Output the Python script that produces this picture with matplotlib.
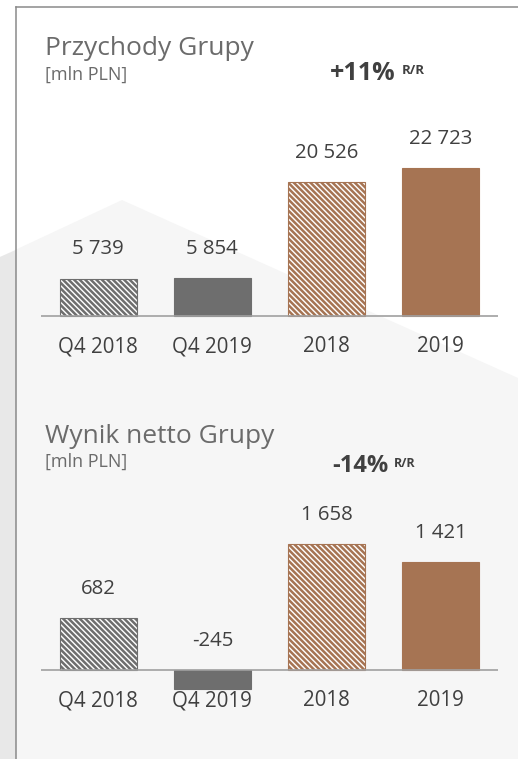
import matplotlib
matplotlib.use("Agg")
import matplotlib.pyplot as plt

# ---- data ----
categories = ["Q4 2018", "Q4 2019", "2018", "2019"]
revenue = [5739, 5854, 20526, 22723]
net_income = [682, -245, 1658, 1421]
revenue_labels = ["5 739", "5 854", "20 526", "22 723"]
net_labels = ["682", "-245", "1 658", "1 421"]
title_top = "Przychody Grupy"
title_bottom = "Wynik netto Grupy"
unit_label = "[mln PLN]"
change_top = "+11%"
change_bottom = "-14%"
change_suffix = "R/R"

# ---- style ----
W, H, DPI = 518, 759, 100
GRAY = "#6e6e6e"
BROWN = "#a67453"
TEXT = "#404040"
TITLE = "#6b6b6b"
FONT = ["Open Sans", "DejaVu Sans"]
plt.rcParams["font.family"] = FONT
plt.rcParams["hatch.linewidth"] = 1.8

fig = plt.figure(figsize=(W / DPI, H / DPI), dpi=DPI)
fig.patch.set_facecolor("white")

# background decoration in pixel coordinates
bg = fig.add_axes([0, 0, 1, 1])
bg.set_xlim(0, W)
bg.set_ylim(H, 0)
bg.axis("off")
bg.fill([0, 122, W, W, 0], [257, 200, 378, H, H], color="#f6f6f6", lw=0, zorder=0)
bg.fill([0, 16, 16, 0], [257, 250, H, H], color="#e8e8e8", lw=0, zorder=0)
bg.plot([16, 16], [7, H], color="#8a8a8a", lw=1.1, zorder=1)
bg.plot([16, W], [7, 7], color="#8a8a8a", lw=1.1, zorder=1)

HATCH = "\\" * 6
styles = [
    dict(facecolor="white", edgecolor=GRAY, hatch=HATCH),
    dict(facecolor=GRAY, edgecolor=GRAY),
    dict(facecolor="white", edgecolor=BROWN, hatch=HATCH),
    dict(facecolor=BROWN, edgecolor=BROWN),
]


def panel(values, labels, base_px, px_per_unit, top_px, bot_px):
    left, right = 41, 498
    ax = fig.add_axes([left / W, 1 - bot_px / H, (right - left) / W, (bot_px - top_px) / H])
    ax.set_xlim(-0.5, 3.5)
    ax.set_ylim(-(bot_px - base_px) / px_per_unit, (base_px - top_px) / px_per_unit)
    ax.patch.set_alpha(0)
    ax.axis("off")
    for i, (v, st) in enumerate(zip(values, styles)):
        ax.bar(i, v, width=0.675, linewidth=0.8, zorder=2, **st)
        ax.annotate(labels[i], (i, max(v, 0)), xytext=(0, 21), textcoords="offset points",
                    ha="center", va="center", fontsize=14.7, color=TEXT)
        ax.annotate(categories[i], (i, 0), xytext=(0, -22), textcoords="offset points",
                    ha="center", va="center", fontsize=14.8, color=TEXT)
    ax.axhline(0, color="#a0a0a0", lw=1.2, zorder=3)
    return ax


panel(revenue, revenue_labels, 316, 148 / 22723, 90, 370)
panel(net_income, net_labels, 670, 0.0760, 480, 740)

# titles
bg.text(45, 55, title_top, fontsize=19, color=TITLE, va="baseline")
bg.text(45, 80, unit_label, fontsize=13, color=TITLE, va="baseline")
bg.text(330, 80, change_top, fontsize=18, color=TEXT, weight="bold", va="baseline")
bg.text(402, 74, change_suffix, fontsize=9.5, color=TEXT, weight="bold", va="baseline")

bg.text(45, 443, title_bottom, fontsize=19, color=TITLE, va="baseline")
bg.text(45, 467, unit_label, fontsize=13, color=TITLE, va="baseline")
bg.text(332, 472, change_bottom, fontsize=17, color=TEXT, weight="bold", va="baseline")
bg.text(394, 467, change_suffix, fontsize=9, color=TEXT, weight="bold", va="baseline")

fig.savefig("out.png", dpi=DPI, facecolor="white")
